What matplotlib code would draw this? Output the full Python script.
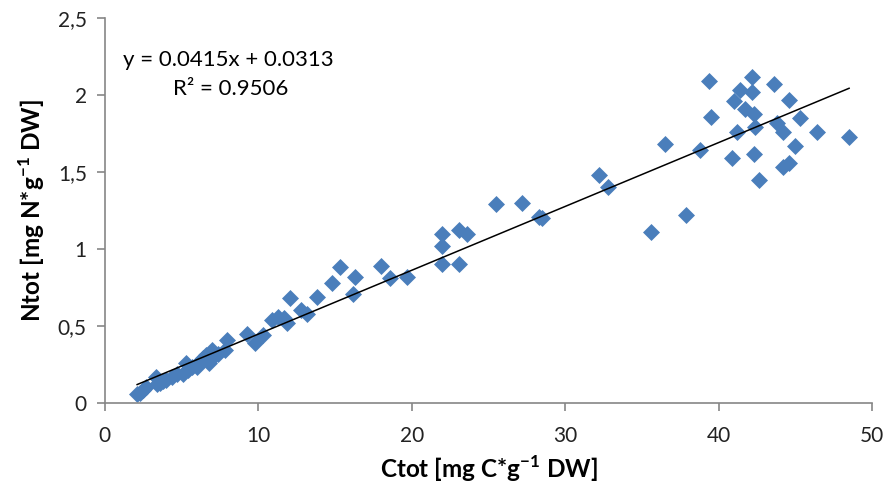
import numpy as np
import matplotlib.pyplot as plt
from matplotlib.ticker import FuncFormatter, MultipleLocator

plt.rcParams['font.family'] = ['Lato', 'DejaVu Sans']
plt.rcParams['mathtext.fontset'] = 'custom'
plt.rcParams['mathtext.rm'] = 'Lato'
plt.rcParams['mathtext.bf'] = 'Lato:bold'

# total carbon vs total nitrogen per sample
ctot = [2.1, 2.3, 2.5, 2.7, 3.3, 3.4, 3.6, 3.8, 4.0, 4.4, 4.7, 5.1, 5.3,
        5.4, 5.7, 6.0, 6.2, 6.4, 6.6, 6.8, 7.0, 7.0, 7.4, 7.8, 7.95, 9.25,
        9.8, 10.3, 10.9, 11.3, 11.7, 11.9, 12.05, 12.8, 13.2, 13.8, 14.8,
        15.3, 16.2, 16.3, 18.0, 18.6, 19.7, 22.0, 22.0, 22.0, 23.1, 23.1,
        23.6, 25.5, 27.2, 28.3, 28.5, 32.2, 32.8, 35.6, 36.5, 37.9, 38.8,
        39.35, 39.5, 40.9, 41.0, 41.2, 41.4, 41.7, 42.2, 42.2, 42.3, 42.3,
        42.4, 42.6, 43.6, 43.8, 44.2, 44.2, 44.6, 44.6, 45.0, 45.3, 46.4,
        48.5]
ntot = [0.06, 0.065, 0.08, 0.10, 0.17, 0.12, 0.13, 0.14, 0.15, 0.17, 0.19,
        0.19, 0.26, 0.21, 0.23, 0.23, 0.27, 0.29, 0.31, 0.26, 0.29, 0.34,
        0.32, 0.34, 0.41, 0.45, 0.39, 0.44, 0.54, 0.56, 0.55, 0.52, 0.68,
        0.60, 0.58, 0.69, 0.78, 0.88, 0.71, 0.82, 0.89, 0.81, 0.82, 1.10,
        1.02, 0.90, 1.12, 0.90, 1.10, 1.29, 1.30, 1.21, 1.20, 1.48, 1.40,
        1.11, 1.68, 1.22, 1.64, 2.09, 1.86, 1.59, 1.96, 1.76, 2.03, 1.91,
        2.12, 2.02, 1.88, 1.62, 1.79, 1.45, 2.07, 1.82, 1.76, 1.53, 1.97,
        1.56, 1.67, 1.85, 1.76, 1.73]

slope = 0.0415
intercept = 0.0313
r2 = 0.9506

fig = plt.figure(figsize=(8.89, 4.9), dpi=100)
ax = fig.add_axes([0.118, 0.178, 0.863, 0.785])

ax.scatter(ctot, ntot, marker='D', s=75, color='#4a7ebb', linewidths=0,
           zorder=2)

# linear trend line over the sampled range
xfit = np.array([min(ctot), max(ctot)])
ax.plot(xfit, slope * xfit + intercept, color='black', lw=1.1, zorder=3)

ax.set_xlim(0, 50)
ax.set_ylim(0, 2.5)
ax.xaxis.set_major_locator(MultipleLocator(10))
ax.yaxis.set_major_locator(MultipleLocator(0.5))
ax.yaxis.set_major_formatter(FuncFormatter(lambda v, p: f'{v:g}'.replace('.', ',')))

for side in ['top', 'right']:
    ax.spines[side].set_visible(False)
for side in ['left', 'bottom']:
    ax.spines[side].set_color('#868686')
    ax.spines[side].set_linewidth(1.2)
ax.tick_params(direction='out', length=6, width=1.2, color='#868686',
               labelsize=15, labelcolor='#222222')
ax.tick_params(axis='x', pad=11)
ax.tick_params(axis='y', pad=7)

ax.set_xlabel(r'Ctot [mg C*g$^{\mathbf{-1}}$ DW]', fontsize=17.5,
              fontweight='bold', labelpad=5)
ax.set_ylabel(r'Ntot [mg N*g$^{\mathbf{-1}}$ DW]', fontsize=17.5,
              fontweight='bold', labelpad=8)

ax.text(1.2, 2.23, f'y = {slope}x + {intercept}', fontsize=16, ha='left',
        va='center')
ax.text(8.2, 2.04, f'R² = {r2}', fontsize=16, ha='center', va='center')

fig.savefig('out.png', dpi=100)
